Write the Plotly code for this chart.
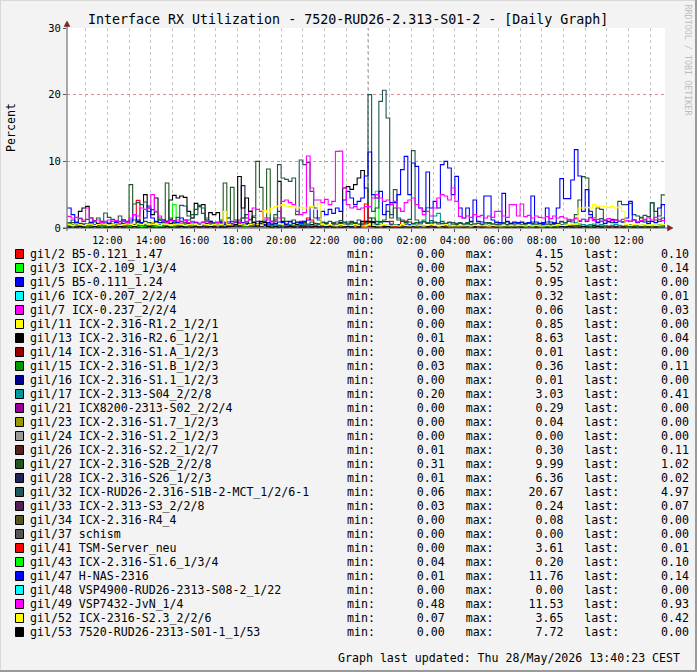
import pandas as pd
import plotly.graph_objects as go

# ---------------------------------------------------------------- texts
TITLE = "Interface RX Utilization - 7520-RUD26-2.313-S01-2 - [Daily Graph]"
Y_LABEL = "Percent"
UPDATED = "Graph last updated: Thu 28/May/2026 13:40:23 CEST"
WATERMARK = "RRDTOOL / TOBI OETIKER"

# ---------------------------------------------------------------- time axis
T_START_10MIN = "2026-05-27 10:10"
T_START_HOURLY = "2026-05-27 10:00"
X_RANGE = ["2026-05-27 10:08:35", "2026-05-28 13:40:23"]
DAY_BREAK = "2026-05-28 00:00"
X_TICK0 = "2026-05-27 12:00"
Y_RANGE = [0, 30]
Y_TICKS = [0, 10, 20, 30]

# ---------------------------------------------------------------- legend
names = [
    "gil/2 B5-0.121_1.47", "gil/3 ICX-2.109_1/3/4", "gil/5 B5-0.111_1.24",
    "gil/6 ICX-0.207_2/2/4", "gil/7 ICX-0.237_2/2/4", "gil/11 ICX-2.316-R1.2_1/2/1",
    "gil/13 ICX-2.316-R2.6_1/2/1", "gil/14 ICX-2.316-S1.A_1/2/3", "gil/15 ICX-2.316-S1.B_1/2/3",
    "gil/16 ICX-2.316-S1.1_1/2/3", "gil/17 ICX-2.313-S04_2/2/8", "gil/21 ICX8200-2313-S02_2/2/4",
    "gil/23 ICX-2.316-S1.7_1/2/3", "gil/24 ICX-2.316-S1.2_1/2/3", "gil/26 ICX-2.316-S2.2_1/2/7",
    "gil/27 ICX-2.316-S2B_2/2/8", "gil/28 ICX-2.316-S26_1/2/3", "gil/32 ICX-RUD26-2.316-S1B-2-MCT_1/2/6-1",
    "gil/33 ICX-2.313-S3_2/2/8", "gil/34 ICX-2.316-R4_4", "gil/37 schism",
    "gil/41 TSM-Server_neu", "gil/43 ICX-2.316-S1.6_1/3/4", "gil/47 H-NAS-2316",
    "gil/48 VSP4900-RUD26-2313-S08-2_1/22", "gil/49 VSP7432-JvN_1/4", "gil/52 ICX-2316-S2.3_2/2/6",
    "gil/53 7520-RUD26-2313-S01-1_1/53",
]
colors = [
    "#FF0000", "#00FF00", "#0000FF", "#00FFFF", "#FF00FF", "#FFFF00", "#000000",
    "#990000", "#009900", "#000099", "#009999", "#990099", "#999900", "#999999",
    "#552222", "#225522", "#222255", "#225555", "#552255", "#555522", "#555555",
    "#FF0000", "#00FF00", "#0000FF", "#00FFFF", "#FF00FF", "#FFFF00", "#000000",
]
stat_min = [0.00, 0.00, 0.00, 0.00, 0.00, 0.00, 0.01, 0.00, 0.03, 0.00, 0.20, 0.00, 0.00, 0.00,
            0.01, 0.31, 0.01, 0.06, 0.03, 0.00, 0.00, 0.00, 0.04, 0.01, 0.00, 0.48, 0.07, 0.00]
stat_max = [4.15, 5.52, 0.95, 0.32, 0.06, 0.85, 8.63, 0.01, 0.36, 0.01, 3.03, 0.29, 0.04, 0.00,
            0.30, 9.99, 6.36, 20.67, 0.24, 0.08, 0.00, 3.61, 0.20, 11.76, 0.00, 11.53, 3.65, 7.72]
stat_last = [0.10, 0.14, 0.00, 0.01, 0.03, 0.00, 0.04, 0.00, 0.11, 0.00, 0.41, 0.00, 0.00, 0.00,
             0.11, 1.02, 0.02, 4.97, 0.07, 0.00, 0.00, 0.01, 0.10, 0.14, 0.00, 0.93, 0.42, 0.00]

# ---------------------------------------------------------------- 10-minute series (10:10 .. 13:40)
gil2 = [
    0.1, 0.2, 0.1, 0.3, 0.2,
    0.1, 0.2, 0.3, 0.1, 0.2, 0.1,   # 11
    0.2, 0.3, 0.1, 0.2, 0.1, 0.2,   # 12
    0.3, 0.2, 4.15, 0.5, 0.3, 0.2,  # 13
    0.1, 0.2, 0.3, 0.2, 0.1, 0.2,   # 14
    0.3, 0.1, 0.2, 0.1, 0.2, 0.3,   # 15
    0.2, 0.1, 0.2, 0.3, 0.1, 0.2,   # 16
    0.1, 0.2, 0.1, 0.2, 0.3, 0.1,   # 17
    0.2, 0.1, 0.3, 0.2, 0.1, 0.2,   # 18
    0.3, 0.2, 0.1, 0.2, 0.1, 0.2,   # 19
    0.1, 0.3, 0.2, 0.1, 0.2, 1.0,   # 20
    0.3, 1.5, 1.2, 0.2, 0.1, 0.2,   # 21
    0.1, 0.2, 0.1, 0.3, 0.2, 0.1,   # 22
    0.2, 0.1, 0.2, 0.1, 0.3, 0.2,   # 23
    0.1, 0.2, 0.1, 0.2, 0.1, 0.3,   # 00
    0.2, 0.1, 0.2, 1.0, 1.0, 0.2,   # 01
    0.1, 0.2, 0.1, 0.2, 0.1, 0.1,   # 02
    0.2, 0.1, 0.1, 0.2, 0.1, 0.1,   # 03
    0.1, 0.1, 0.2, 0.1, 0.1, 0.2,   # 04
    0.1, 0.2, 0.1, 0.1, 0.2, 0.1,   # 05
    0.1, 0.1, 0.2, 0.1, 0.1, 0.2,   # 06
    0.2, 0.1, 0.1, 0.2, 0.1, 0.1,   # 07
    0.1, 0.2, 0.1, 0.1, 0.2, 0.1,   # 08
    0.1, 0.1, 0.2, 0.1, 0.1, 0.2,   # 09
    0.2, 0.1, 0.1, 0.2, 0.1, 0.1,   # 10
    0.1, 0.2, 0.1, 0.1, 0.2, 0.1,   # 11
    0.1, 0.1, 0.2, 0.1, 0.1, 0.2,   # 12
    0.1, 0.2, 0.1, 0.1, 0.1,        # 13
]
gil3 = [
    0.2, 0.1, 0.2, 0.3, 0.2,
    0.1, 0.2, 0.1, 0.2, 0.3, 0.2,   # 11
    0.1, 0.2, 0.2, 0.1, 0.3, 0.2,   # 12
    0.2, 0.1, 0.2, 0.3, 0.2, 0.1,   # 13
    0.2, 0.3, 0.2, 0.1, 0.2, 0.3,   # 14
    3.5, 0.4, 0.2, 0.1, 0.2, 0.3,   # 15
    0.2, 0.1, 0.2, 0.2, 0.1, 0.2,   # 16
    0.3, 0.2, 0.1, 0.2, 0.3, 0.2,   # 17
    0.1, 0.2, 0.2, 0.3, 0.1, 0.2,   # 18
    0.2, 0.1, 0.3, 0.2, 0.2, 0.1,   # 19
    0.2, 0.3, 0.2, 0.1, 0.2, 0.2,   # 20
    0.1, 0.2, 0.3, 0.2, 0.1, 0.2,   # 21
    0.2, 0.1, 0.2, 0.3, 0.2, 0.1,   # 22
    0.2, 0.2, 0.1, 0.3, 0.2, 0.2,   # 23
    0.1, 0.2, 5.52, 0.3, 0.2, 0.1,  # 00
    0.2, 0.1, 0.2, 0.2, 0.1, 0.2,   # 01
    0.1, 0.2, 0.1, 0.2, 0.2, 0.1,   # 02
    0.2, 0.1, 0.2, 0.1, 0.2, 0.2,   # 03
    0.1, 0.2, 0.1, 0.2, 0.1, 0.2,   # 04
    0.2, 0.1, 0.2, 0.1, 0.2, 0.1,   # 05
    0.1, 0.2, 0.1, 0.2, 0.1, 0.2,   # 06
    0.2, 0.1, 0.2, 0.1, 0.2, 0.1,   # 07
    0.1, 0.2, 0.1, 0.2, 0.1, 0.2,   # 08
    0.2, 0.1, 0.2, 0.3, 0.2, 0.1,   # 09
    0.2, 0.3, 0.2, 0.1, 0.2, 0.1,   # 10
    0.1, 0.2, 0.1, 0.2, 0.1, 0.2,   # 11
    0.2, 0.1, 0.2, 0.1, 0.2, 0.1,   # 12
    0.1, 0.2, 0.1, 0.2, 0.14,       # 13
]
gil13 = [
    0.3, 0.5, 0.8, 2.5, 3.0,
    3.25, 1.5, 0.5, 0.4, 0.3, 0.5,  # 11
    0.4, 0.3, 0.5, 0.4, 0.6, 0.3,   # 12
    0.4, 0.5, 1.0, 0.8, 5.0, 3.0,   # 13
    2.0, 4.5, 1.2, 0.8, 1.0, 4.2,   # 14
    4.9, 4.5, 4.8, 4.6, 2.5, 1.5,   # 15
    3.7, 3.2, 3.5, 1.2, 2.3, 2.0,   # 16
    2.3, 0.8, 0.5, 0.4, 0.6, 0.3,   # 17
    0.4, 0.5, 0.3, 0.6, 0.4, 0.5,   # 18
    0.3, 0.4, 0.6, 0.5, 1.2, 7.0,   # 19
    1.0, 0.5, 0.4, 0.3, 0.5, 0.4,   # 20
    0.6, 0.3, 0.5, 0.4, 0.6, 0.3,   # 21
    0.5, 0.4, 0.6, 0.5, 0.8, 6.0,   # 22
    6.2, 5.8, 6.5, 7.5, 8.63, 6.0,  # 23
    1.5, 0.8, 0.5, 0.4, 0.3, 0.2,   # 00
    0.3, 0.2, 0.4, 0.3, 0.2, 0.3,   # 01
    0.2, 0.3, 0.2, 0.1, 0.2, 0.3,   # 02
    0.2, 0.1, 0.2, 0.3, 0.2, 0.1,   # 03
    0.2, 0.1, 0.1, 0.2, 0.1, 0.2,   # 04
    0.1, 0.2, 0.1, 0.1, 0.2, 0.1,   # 05
    0.2, 0.1, 0.2, 0.1, 0.1, 0.2,   # 06
    0.1, 0.1, 0.2, 0.1, 0.2, 0.1,   # 07
    0.2, 0.1, 0.1, 0.2, 0.1, 0.3,   # 08
    0.2, 0.3, 0.2, 0.4, 0.3, 0.2,   # 09
    0.3, 0.2, 0.4, 0.3, 0.2, 0.3,   # 10
    0.2, 0.3, 0.2, 0.1, 0.2, 0.3,   # 11
    0.2, 0.1, 0.2, 0.3, 0.1, 0.2,   # 12
    0.1, 0.2, 0.1, 0.1, 0.04,       # 13
]
gil17 = [
    0.4, 0.5, 0.3, 0.4, 0.6,
    0.5, 0.4, 0.3, 0.5, 0.4, 0.6,   # 11
    0.4, 0.5, 0.3, 0.4, 0.5, 0.4,   # 12
    0.6, 0.4, 0.5, 0.3, 0.4, 0.5,   # 13
    0.4, 0.3, 0.5, 0.4, 0.6, 0.4,   # 14
    0.5, 0.4, 0.3, 0.5, 0.4, 0.6,   # 15
    0.4, 0.5, 0.4, 0.3, 0.5, 0.4,   # 16
    0.5, 0.4, 0.6, 0.4, 0.3, 0.5,   # 17
    0.8, 0.6, 0.4, 0.5, 0.4, 0.3,   # 18
    0.4, 0.5, 0.4, 0.6, 0.5, 0.4,   # 19
    0.3, 0.4, 0.5, 0.4, 0.3, 0.5,   # 20
    0.4, 0.5, 0.3, 0.4, 0.5, 0.4,   # 21
    0.5, 0.4, 0.3, 0.5, 0.4, 0.6,   # 22
    0.4, 0.5, 0.4, 0.3, 0.5, 0.6,   # 23
    0.5, 0.4, 0.6, 0.8, 0.5, 0.4,   # 00
    0.6, 0.5, 0.4, 0.5, 0.6, 0.4,   # 01
    0.5, 0.6, 0.8, 1.2, 3.03, 0.8,  # 02
    1.8, 2.2, 0.6, 0.5, 0.4, 0.5,   # 03
    0.4, 0.3, 0.4, 0.5, 0.3, 0.4,   # 04
    0.3, 0.4, 0.3, 0.4, 0.5, 0.3,   # 05
    0.4, 0.3, 0.5, 0.4, 0.3, 0.4,   # 06
    0.3, 0.4, 0.3, 0.5, 0.4, 0.3,   # 07
    0.4, 0.3, 0.4, 0.3, 0.5, 0.4,   # 08
    0.6, 0.5, 0.4, 0.8, 0.6, 0.5,   # 09
    0.4, 0.5, 0.6, 0.4, 0.5, 0.4,   # 10
    0.3, 0.4, 0.5, 0.4, 0.3, 0.4,   # 11
    0.5, 0.4, 0.3, 0.4, 0.5, 0.4,   # 12
    0.3, 0.4, 0.5, 0.4, 0.41,       # 13
]
gil27 = [
    0.6, 0.8, 0.5, 0.7, 0.6,
    0.5, 0.7, 0.9, 0.6, 0.8, 0.5,   # 11
    0.7, 0.6, 0.8, 1.0, 0.7, 0.6,   # 12
    6.5, 1.2, 0.8, 0.7, 1.0, 0.8,   # 13
    0.7, 0.9, 1.2, 0.8, 6.75, 1.5,  # 14
    0.8, 0.9, 1.0, 0.8, 1.2, 2.0,   # 15
    2.8, 3.4, 2.2, 1.0, 0.8, 0.6,   # 16
    0.8, 1.0, 6.75, 1.5, 6.1, 1.2,  # 17
    0.9, 1.5, 2.0, 1.2, 1.8, 9.99,  # 18
    6.1, 1.0, 8.85, 1.0, 1.5, 2.5,  # 19
    1.5, 1.0, 0.9, 1.2, 0.8, 0.7,   # 20
    0.8, 0.6, 0.9, 0.7, 0.6, 0.8,   # 21
    0.7, 0.5, 0.8, 0.6, 0.7, 0.9,   # 22
    0.6, 0.8, 0.7, 0.5, 0.6, 0.8,   # 23
    0.8, 1.5, 1.0, 0.9, 1.2, 2.5,   # 00
    1.5, 3.0, 1.2, 1.0, 0.8, 0.9,   # 01
    0.7, 0.8, 0.6, 0.9, 0.7, 0.6,   # 02
    0.8, 0.6, 0.7, 0.5, 0.8, 0.6,   # 03
    0.5, 0.7, 0.6, 0.8, 0.5, 0.6,   # 04
    0.7, 0.5, 0.6, 0.8, 0.6, 0.5,   # 05
    0.6, 0.8, 0.5, 0.7, 0.6, 0.8,   # 06
    0.5, 0.6, 0.8, 0.7, 0.5, 0.6,   # 07
    0.7, 0.6, 0.5, 0.8, 0.6, 0.9,   # 08
    0.8, 1.0, 1.2, 2.0, 4.2, 7.7,   # 09
    7.5, 2.5, 1.5, 3.0, 2.8, 1.2,   # 10
    1.0, 0.8, 1.2, 1.0, 0.9, 1.1,   # 11
    1.0, 1.2, 0.9, 1.5, 1.2, 1.0,   # 12
    3.75, 1.2, 1.0, 1.5, 1.02,      # 13
]
gil28 = [
    0.2, 0.1, 0.2, 0.1, 0.3,
    0.2, 0.1, 0.2, 0.3, 0.1, 0.2,   # 11
    0.1, 0.2, 0.1, 0.2, 0.3, 0.1,   # 12
    0.2, 0.3, 0.2, 0.1, 0.2, 0.1,   # 13
    0.3, 0.2, 0.1, 0.2, 0.1, 0.2,   # 14
    0.1, 0.2, 0.3, 0.1, 0.2, 0.1,   # 15
    0.2, 0.1, 0.2, 0.1, 0.3, 0.2,   # 16
    0.1, 0.2, 0.1, 0.3, 0.2, 0.1,   # 17
    0.2, 6.36, 1.5, 0.3, 0.2, 0.1,  # 18
    0.2, 0.1, 0.2, 0.1, 0.2, 0.3,   # 19
    0.1, 0.2, 0.1, 0.2, 0.1, 0.2,   # 20
    0.3, 0.1, 0.2, 0.1, 0.2, 0.1,   # 21
    0.2, 0.1, 0.2, 0.3, 0.1, 0.2,   # 22
    0.1, 0.2, 0.1, 0.2, 0.3, 0.1,   # 23
    0.2, 0.1, 0.2, 0.1, 0.2, 0.1,   # 00
    0.1, 0.2, 0.1, 0.1, 0.2, 0.1,   # 01
    0.1, 0.1, 0.2, 0.1, 0.1, 0.1,   # 02
    0.2, 0.1, 0.1, 0.1, 0.2, 0.1,   # 03
    0.1, 0.1, 0.1, 0.2, 0.1, 0.1,   # 04
    0.1, 0.2, 0.1, 0.1, 0.1, 0.1,   # 05
    0.1, 0.1, 0.1, 0.1, 0.2, 0.1,   # 06
    0.1, 0.1, 0.2, 0.1, 0.1, 0.1,   # 07
    0.1, 0.2, 0.1, 0.1, 0.1, 0.2,   # 08
    0.1, 0.1, 0.2, 0.1, 0.1, 0.1,   # 09
    0.2, 0.1, 0.1, 0.1, 0.2, 0.1,   # 10
    0.1, 0.1, 0.2, 0.1, 0.1, 0.1,   # 11
    0.1, 0.2, 0.1, 0.1, 0.1, 0.1,   # 12
    0.1, 0.1, 0.1, 0.1, 0.02,       # 13
]
gil32 = [
    0.8, 1.2, 0.9, 1.4, 1.0,
    1.3, 0.9, 1.1, 1.5, 1.0, 2.25,  # 11
    1.6, 1.3, 1.0, 1.8, 1.2, 1.0,   # 12
    1.2, 3.6, 3.8, 3.5, 3.9, 2.5,   # 13
    2.75, 2.4, 1.5, 1.2, 1.0, 1.3,  # 14
    1.1, 1.6, 3.4, 3.3, 1.8, 1.5,   # 15
    2.0, 3.25, 3.0, 1.5, 1.0, 0.8,  # 16
    0.9, 1.2, 0.8, 1.5, 1.0, 0.8,   # 17
    1.2, 1.5, 0.9, 1.3, 1.6, 1.0,   # 18
    0.9, 1.2, 1.5, 1.0, 2.0, 9.5,   # 19
    7.5, 7.3, 7.0, 7.5, 2.0, 10.2,  # 20
    9.5, 9.8, 5.5, 1.5, 1.2, 0.9,   # 21
    0.8, 1.0, 0.7, 0.9, 1.1, 0.8,   # 22
    0.9, 1.0, 0.8, 1.2, 0.9, 1.0,   # 23
    20.0, 2.5, 3.0, 19.0, 20.67, 16.5,  # 00
    2.0, 5.75, 1.5, 1.2, 1.0, 1.3,  # 01
    11.6, 1.2, 0.9, 1.0, 0.8, 1.1,  # 02
    0.9, 0.8, 1.0, 0.7, 0.9, 0.8,   # 03
    0.7, 0.8, 0.6, 0.7, 0.9, 0.6,   # 04
    0.7, 0.6, 0.8, 0.7, 0.6, 0.8,   # 05
    0.6, 0.7, 0.9, 0.6, 0.8, 0.7,   # 06
    0.8, 0.6, 0.7, 0.9, 0.6, 0.7,   # 07
    0.7, 0.9, 0.6, 0.8, 0.7, 1.0,   # 08
    0.8, 1.2, 0.9, 1.5, 1.0, 1.3,   # 09
    1.0, 1.6, 1.2, 0.9, 1.4, 1.1,   # 10
    1.0, 1.3, 1.2, 4.0, 3.5, 3.5,   # 11
    3.7, 2.0, 1.8, 1.6, 1.9, 1.7,   # 12
    3.8, 2.5, 1.8, 4.97, 4.97,      # 13
]
gil41 = [
    0.0, 0.1, 0.0, 0.1, 0.0,
    0.1, 0.0, 0.1, 0.0, 0.1, 0.0,   # 11
    0.0, 0.1, 0.0, 0.1, 0.0, 0.1,   # 12
    0.1, 0.0, 0.1, 0.0, 0.1, 0.0,   # 13
    0.0, 0.1, 0.0, 0.1, 0.0, 0.1,   # 14
    0.1, 0.0, 0.1, 0.0, 0.1, 0.0,   # 15
    0.0, 0.1, 0.0, 0.1, 0.0, 0.1,   # 16
    0.1, 0.0, 0.1, 0.0, 0.1, 0.0,   # 17
    0.0, 0.1, 0.0, 0.1, 0.0, 0.1,   # 18
    0.1, 0.0, 0.1, 0.0, 0.1, 0.0,   # 19
    0.0, 0.1, 0.0, 0.1, 0.0, 0.1,   # 20
    0.1, 0.0, 0.1, 0.0, 0.1, 0.0,   # 21
    0.0, 0.1, 0.0, 0.1, 0.0, 0.1,   # 22
    0.1, 0.0, 0.1, 0.0, 0.2, 3.61,  # 23
    0.3, 0.1, 0.0, 0.1, 0.0, 0.1,   # 00
    1.0, 0.2, 0.1, 0.0, 0.1, 0.0,   # 01
    0.0, 0.1, 0.0, 0.1, 0.0, 0.1,   # 02
    0.1, 0.0, 0.1, 0.0, 0.1, 0.0,   # 03
    0.0, 0.1, 0.0, 0.1, 0.0, 0.1,   # 04
    0.1, 0.0, 0.1, 0.0, 0.1, 0.0,   # 05
    0.0, 0.1, 0.0, 0.1, 0.0, 0.1,   # 06
    0.1, 0.0, 0.1, 0.0, 0.1, 0.0,   # 07
    0.0, 0.1, 0.0, 0.1, 0.0, 0.1,   # 08
    0.1, 0.0, 0.1, 0.0, 0.1, 0.0,   # 09
    0.0, 0.1, 0.0, 0.1, 0.0, 0.1,   # 10
    0.1, 0.0, 0.1, 0.0, 0.1, 0.0,   # 11
    0.0, 0.1, 0.0, 0.1, 0.0, 0.1,   # 12
    0.1, 0.0, 0.1, 0.0, 0.01,       # 13
]
gil47 = [
    3.0, 2.0, 0.8, 0.6, 0.5,
    0.6, 0.8, 0.5, 0.7, 0.6, 0.9,   # 11
    0.7, 1.0, 0.8, 0.6, 1.2, 0.8,   # 12
    0.9, 2.0, 1.2, 0.8, 1.5, 3.3,   # 13
    1.5, 1.0, 0.8, 1.2, 0.9, 0.7,   # 14
    1.0, 0.8, 1.5, 1.2, 0.7, 0.9,   # 15
    0.8, 0.6, 0.9, 0.7, 1.0, 0.6,   # 16
    0.7, 0.8, 0.6, 0.9, 0.7, 0.5,   # 17
    0.6, 0.8, 0.7, 0.5, 0.9, 0.6,   # 18
    0.7, 0.5, 0.8, 0.6, 0.7, 0.9,   # 19
    0.8, 0.6, 1.0, 0.7, 0.9, 0.8,   # 20
    1.0, 1.2, 3.2, 3.0, 1.5, 2.5,   # 21
    2.0, 2.8, 2.2, 3.0, 2.5, 4.2,   # 22
    5.5, 4.5, 3.5, 4.0, 4.5, 7.8,   # 23
    11.4, 5.0, 4.5, 5.5, 2.0, 3.5,  # 00
    3.8, 3.8, 5.0, 8.75, 10.75, 5.0,  # 01
    9.75, 9.25, 3.0, 2.5, 8.4, 3.0,   # 02
    4.0, 3.0, 9.5, 10.0, 9.0, 5.0,  # 03
    7.75, 3.0, 1.5, 3.0, 1.0, 4.2,  # 04
    1.0, 0.9, 4.8, 4.8, 1.2, 0.9,   # 05
    0.8, 5.2, 1.0, 0.7, 0.9, 0.8,   # 06
    0.9, 0.7, 0.8, 4.8, 0.9, 0.7,   # 07
    0.8, 3.0, 0.9, 0.7, 3.0, 7.4,   # 08
    4.4, 4.4, 7.2, 11.76, 7.8, 2.5,  # 09
    5.75, 2.0, 1.2, 0.8, 1.0, 0.7,  # 10
    0.9, 1.2, 0.8, 1.0, 0.9, 1.5,   # 11
    4.0, 1.2, 0.8, 1.0, 0.9, 0.7,   # 12
    1.0, 0.8, 3.0, 3.5, 0.14,       # 13
]
gil49 = [
    1.75, 1.5, 1.6, 1.5, 1.2,
    3.0, 1.5, 1.0, 1.2, 0.8, 1.0,   # 11
    1.2, 1.0, 1.1, 0.9, 1.0, 0.8,   # 12
    1.5, 2.0, 1.8, 3.0, 2.8, 3.0,   # 13
    5.0, 2.5, 1.8, 1.0, 0.8, 1.1,   # 14
    1.0, 1.2, 0.9, 1.1, 0.8, 1.0,   # 15
    0.9, 0.7, 0.8, 1.0, 0.7, 0.6,   # 16
    0.8, 0.6, 0.9, 0.7, 0.6, 1.0,   # 17
    0.8, 0.7, 1.0, 2.5, 3.0, 2.8,   # 18
    2.5, 1.5, 1.2, 0.9, 1.0, 1.5,   # 19
    4.0, 4.2, 3.8, 3.5, 2.5, 2.0,   # 20
    2.3, 10.8, 6.0, 4.2, 4.2, 3.8,  # 21
    4.3, 3.5, 4.0, 11.5, 11.53, 6.0,  # 22
    3.5, 3.0, 3.2, 2.8, 3.0, 3.2,   # 23
    3.2, 4.5, 5.0, 4.5, 4.0, 4.2,   # 00
    3.5, 4.0, 3.0, 2.5, 3.8, 4.2,   # 01
    4.5, 3.5, 3.0, 2.0, 2.5, 1.8,   # 02
    3.0, 4.5, 5.0, 4.8, 4.2, 6.0,   # 03
    4.0, 1.75, 1.5, 1.8, 1.6, 2.0,  # 04
    1.7, 1.9, 1.5, 1.8, 1.6, 2.5,   # 05
    2.5, 1.8, 1.6, 3.5, 3.5, 1.8,   # 06
    3.6, 1.7, 1.9, 1.5, 1.8, 1.6,   # 07
    1.5, 1.7, 1.4, 1.8, 1.5, 1.7,   # 08
    1.5, 1.3, 1.2, 1.4, 1.1, 1.3,   # 09
    1.2, 1.5, 1.1, 1.3, 1.0, 1.2,   # 10
    1.4, 1.1, 1.2, 1.0, 1.3, 1.1,   # 11
    1.0, 1.2, 0.9, 1.1, 1.3, 1.5,   # 12
    1.2, 1.6, 1.3, 1.1, 0.93,       # 13
]
gil52 = [
    0.5, 0.4, 0.6, 0.5, 0.4,
    0.5, 0.6, 0.4, 0.5, 0.6, 0.5,   # 11
    0.4, 0.5, 0.6, 0.4, 0.5, 0.6,   # 12
    0.5, 0.4, 0.6, 0.5, 0.7, 0.5,   # 13
    0.6, 0.5, 0.4, 0.6, 0.5, 0.4,   # 14
    0.5, 0.6, 0.5, 0.4, 0.5, 0.6,   # 15
    0.5, 0.4, 0.6, 0.5, 0.4, 0.5,   # 16
    0.6, 0.5, 2.5, 0.5, 0.4, 0.6,   # 17
    0.5, 0.6, 0.4, 0.5, 0.6, 0.5,   # 18
    0.4, 2.6, 2.25, 3.0, 3.2, 3.3,  # 19
    3.5, 3.3, 3.2, 3.3, 3.0, 3.1,   # 20
    3.0, 3.0, 3.2, 2.8, 3.65, 0.5,  # 21
    0.4, 0.5, 0.3, 0.4, 0.5, 0.4,   # 22
    0.3, 0.4, 0.5, 0.4, 0.3, 0.4,   # 23
    0.5, 0.4, 0.3, 0.4, 0.5, 0.4,   # 00
    0.3, 0.4, 0.3, 0.5, 0.4, 0.3,   # 01
    0.4, 0.3, 0.4, 0.3, 0.4, 0.5,   # 02
    0.4, 0.3, 0.4, 0.5, 0.3, 0.4,   # 03
    0.3, 0.4, 0.3, 0.4, 0.3, 0.4,   # 04
    0.4, 0.3, 0.4, 0.3, 0.4, 0.3,   # 05
    0.3, 0.4, 0.3, 0.4, 0.3, 0.4,   # 06
    0.4, 0.3, 0.4, 0.3, 0.4, 0.3,   # 07
    0.3, 0.4, 0.3, 0.4, 0.5, 0.4,   # 08
    0.4, 0.5, 0.6, 0.5, 3.0, 3.0,   # 09
    3.1, 3.0, 3.5, 3.2, 3.3, 3.2,   # 10
    3.1, 3.2, 3.0, 3.1, 2.5, 0.5,   # 11
    0.4, 0.5, 0.6, 0.4, 0.5, 0.4,   # 12
    0.5, 0.4, 0.6, 0.5, 0.42,       # 13
]
gil53 = [
    0.1, 0.0, 0.1, 0.2, 0.1,
    0.0, 0.1, 0.2, 0.1, 0.0, 0.1,   # 11
    0.1, 0.0, 0.1, 0.2, 0.1, 0.0,   # 12
    0.1, 0.2, 0.1, 0.0, 0.1, 0.2,   # 13
    0.1, 0.0, 0.1, 0.1, 0.2, 0.1,   # 14
    0.0, 0.1, 0.2, 0.1, 0.0, 0.1,   # 15
    0.2, 0.1, 0.0, 0.1, 0.2, 0.1,   # 16
    0.0, 0.1, 0.1, 0.2, 0.3, 0.5,   # 17
    7.72, 3.0, 4.5, 2.5, 0.8, 0.3,  # 18
    1.0, 0.8, 0.2, 0.1, 0.2, 0.1,   # 19
    0.0, 0.1, 0.2, 0.1, 0.0, 0.1,   # 20
    0.1, 0.0, 0.1, 0.2, 0.1, 0.0,   # 21
    0.1, 0.2, 0.1, 0.0, 0.1, 0.1,   # 22
    0.2, 0.1, 0.0, 0.1, 1.0, 1.0,   # 23
    1.0, 0.2, 0.1, 0.0, 0.1, 0.2,   # 00
    0.1, 0.0, 0.1, 0.1, 0.0, 0.1,   # 01
    0.0, 0.1, 0.0, 0.0, 0.1, 0.0,   # 02
    0.1, 0.0, 0.0, 0.1, 0.0, 0.0,   # 03
    0.0, 0.0, 0.1, 0.0, 0.0, 0.1,   # 04
    0.0, 0.1, 0.0, 0.0, 0.0, 0.1,   # 05
    0.0, 0.0, 0.1, 0.0, 0.1, 0.0,   # 06
    0.1, 0.0, 0.0, 0.0, 0.1, 0.0,   # 07
    0.0, 0.1, 0.0, 0.1, 0.0, 0.2,   # 08
    0.1, 0.2, 0.1, 0.0, 0.1, 0.2,   # 09
    0.1, 0.0, 0.1, 0.2, 0.1, 0.0,   # 10
    0.1, 0.0, 0.1, 0.0, 0.1, 0.0,   # 11
    0.0, 0.1, 0.0, 0.1, 0.0, 0.1,   # 12
    0.0, 0.1, 0.0, 0.0, 0.00,       # 13
]

# ---------------------------------------------------------------- hourly series (10:00 .. 14:00)
gil5 = [0.2, 0.4, 0.3, 0.5, 0.3, 0.6, 0.4, 0.3, 0.5, 0.4, 0.3, 0.2, 0.4, 0.6, 0.95,
        0.5, 0.3, 0.2, 0.3, 0.2, 0.4, 0.3, 0.5, 0.4, 0.3, 0.2, 0.3, 0.0, 0.0]
gil6 = [0.1, 0.2, 0.1, 0.15, 0.32, 0.2, 0.1, 0.15, 0.1, 0.2, 0.1, 0.05, 0.1, 0.2, 0.15,
        0.1, 0.05, 0.1, 0.05, 0.1, 0.15, 0.1, 0.2, 0.1, 0.05, 0.1, 0.05, 0.01, 0.01]
gil7 = [0.02, 0.03, 0.01, 0.04, 0.02, 0.06, 0.03, 0.02, 0.01, 0.03, 0.02, 0.01, 0.02, 0.04, 0.03,
        0.02, 0.01, 0.02, 0.01, 0.02, 0.03, 0.02, 0.01, 0.02, 0.03, 0.02, 0.04, 0.03, 0.03]
gil11 = [0.3, 0.5, 0.4, 0.6, 0.85, 0.5, 0.3, 0.4, 0.2, 0.3, 0.5, 0.4, 0.3, 0.2, 0.1,
         0.2, 0.1, 0.2, 0.3, 0.2, 0.1, 0.3, 0.2, 0.4, 0.3, 0.2, 0.1, 0.0, 0.0]
gil14 = [0.0, 0.01, 0.0, 0.0, 0.01, 0.0, 0.0, 0.01, 0.0, 0.0, 0.0, 0.01, 0.0, 0.0, 0.0,
         0.01, 0.0, 0.0, 0.0, 0.0, 0.01, 0.0, 0.0, 0.0, 0.01, 0.0, 0.0, 0.0, 0.0]
gil15 = [0.1, 0.15, 0.2, 0.3, 0.36, 0.25, 0.2, 0.15, 0.2, 0.1, 0.15, 0.1, 0.08, 0.05, 0.05,
         0.04, 0.03, 0.05, 0.04, 0.06, 0.08, 0.1, 0.15, 0.2, 0.15, 0.1, 0.12, 0.11, 0.11]
gil16 = [0.0, 0.0, 0.01, 0.0, 0.0, 0.0, 0.01, 0.0, 0.0, 0.0, 0.0, 0.0, 0.01, 0.0, 0.0,
         0.0, 0.0, 0.01, 0.0, 0.0, 0.0, 0.0, 0.0, 0.01, 0.0, 0.0, 0.0, 0.0, 0.0]
gil21 = [0.05, 0.1, 0.05, 0.15, 0.29, 0.1, 0.05, 0.02, 0.0, 0.05, 0.1, 0.05, 0.0, 0.02, 0.05,
         0.0, 0.0, 0.02, 0.0, 0.05, 0.1, 0.05, 0.02, 0.1, 0.05, 0.02, 0.0, 0.0, 0.0]
gil23 = [0.01, 0.02, 0.0, 0.03, 0.04, 0.02, 0.01, 0.0, 0.01, 0.02, 0.0, 0.01, 0.0, 0.02, 0.01,
         0.0, 0.01, 0.0, 0.0, 0.01, 0.02, 0.01, 0.0, 0.01, 0.02, 0.0, 0.01, 0.0, 0.0]
gil24 = [0.0, 0.0, 0.0, 0.0, 0.0, 0.0, 0.0, 0.0, 0.0, 0.0, 0.0, 0.0, 0.0, 0.0, 0.0,
         0.0, 0.0, 0.0, 0.0, 0.0, 0.0, 0.0, 0.0, 0.0, 0.0, 0.0, 0.0, 0.0, 0.0]
gil26 = [0.1, 0.15, 0.2, 0.3, 0.2, 0.1, 0.15, 0.05, 0.02, 0.01, 0.05, 0.1, 0.05, 0.02, 0.01,
         0.02, 0.01, 0.02, 0.05, 0.1, 0.15, 0.1, 0.2, 0.15, 0.1, 0.12, 0.1, 0.11, 0.11]
gil33 = [0.05, 0.1, 0.15, 0.24, 0.2, 0.1, 0.08, 0.05, 0.04, 0.03, 0.05, 0.06, 0.04, 0.03, 0.04,
         0.05, 0.03, 0.04, 0.05, 0.06, 0.1, 0.08, 0.12, 0.1, 0.08, 0.06, 0.07, 0.07, 0.07]
gil34 = [0.02, 0.04, 0.03, 0.06, 0.08, 0.05, 0.03, 0.02, 0.01, 0.02, 0.03, 0.02, 0.01, 0.0, 0.01,
         0.0, 0.01, 0.0, 0.01, 0.02, 0.03, 0.02, 0.04, 0.03, 0.02, 0.01, 0.0, 0.0, 0.0]
gil37 = [0.0, 0.0, 0.0, 0.0, 0.0, 0.0, 0.0, 0.0, 0.0, 0.0, 0.0, 0.0, 0.0, 0.0, 0.0,
         0.0, 0.0, 0.0, 0.0, 0.0, 0.0, 0.0, 0.0, 0.0, 0.0, 0.0, 0.0, 0.0, 0.0]
gil43 = [0.1, 0.15, 0.12, 0.2, 0.18, 0.1, 0.08, 0.06, 0.05, 0.04, 0.06, 0.08, 0.05, 0.04, 0.05,
         0.06, 0.04, 0.05, 0.06, 0.08, 0.1, 0.12, 0.15, 0.12, 0.1, 0.08, 0.12, 0.1, 0.1]
gil48 = [0.0, 0.0, 0.0, 0.0, 0.0, 0.0, 0.0, 0.0, 0.0, 0.0, 0.0, 0.0, 0.0, 0.0, 0.0,
         0.0, 0.0, 0.0, 0.0, 0.0, 0.0, 0.0, 0.0, 0.0, 0.0, 0.0, 0.0, 0.0, 0.0]

series = [gil2, gil3, gil5, gil6, gil7, gil11, gil13, gil14, gil15, gil16, gil17, gil21, gil23,
          gil24, gil26, gil27, gil28, gil32, gil33, gil34, gil37, gil41, gil43, gil47, gil48,
          gil49, gil52, gil53]

# ---------------------------------------------------------------- layout geometry (pixels)
W, H = 697, 672
PL, PR, PT, PB = 67, 665, 28, 228
MONO = "DejaVu Sans Mono"


def fx(px):
    return (px - PL) / (PR - PL)


def fy(py):
    return (PB - py) / (PB - PT)


fig = go.Figure()

for name, col, vals in zip(names, colors, series):
    if len(vals) > 60:
        xs = pd.date_range(T_START_10MIN, periods=len(vals), freq="10min")
    else:
        xs = pd.date_range(T_START_HOURLY, periods=len(vals), freq="1h")
    fig.add_trace(go.Scatter(
        x=xs, y=vals, mode="lines", name=name,
        line=dict(color=col, width=1.1, shape="hv"),
        hoverinfo="skip", showlegend=False,
    ))

shapes = []
annotations = []

# day boundary (major vertical grid)
shapes.append(dict(type="line", xref="x", yref="paper", x0=DAY_BREAK, x1=DAY_BREAK, y0=0, y1=1,
                   line=dict(color="rgba(215,120,120,0.85)", width=1, dash="dot"), layer="below"))

# axes lines
AXC = "#555555"
shapes.append(dict(type="line", xref="paper", yref="paper", x0=fx(67), x1=fx(67), y0=fy(231), y1=fy(24),
                   line=dict(color=AXC, width=1), layer="above"))
shapes.append(dict(type="line", xref="paper", yref="paper", x0=fx(63), x1=fx(669), y0=fy(228), y1=fy(228),
                   line=dict(color=AXC, width=1), layer="above"))
# arrow heads
ARC = "#802020"
shapes.append(dict(type="path", xref="paper", yref="paper",
                   path=f"M {fx(64)},{fy(26.5)} L {fx(70)},{fy(26.5)} L {fx(67)},{fy(21)} Z",
                   fillcolor=ARC, line=dict(color=ARC, width=0.5), layer="above"))
shapes.append(dict(type="path", xref="paper", yref="paper",
                   path=f"M {fx(667.5)},{fy(225)} L {fx(667.5)},{fy(231)} L {fx(673)},{fy(228)} Z",
                   fillcolor=ARC, line=dict(color=ARC, width=0.5), layer="above"))

# image frame
shapes.append(dict(type="line", xref="paper", yref="paper", x0=fx(0), x1=fx(W), y0=fy(0.5), y1=fy(0.5),
                   line=dict(color="#d8d8d8", width=1)))
shapes.append(dict(type="line", xref="paper", yref="paper", x0=fx(0.5), x1=fx(0.5), y0=fy(0), y1=fy(H),
                   line=dict(color="#d8d8d8", width=1)))
shapes.append(dict(type="line", xref="paper", yref="paper", x0=fx(0), x1=fx(W), y0=fy(H - 1), y1=fy(H - 1),
                   line=dict(color="#9a9a9a", width=2)))
shapes.append(dict(type="line", xref="paper", yref="paper", x0=fx(W - 1), x1=fx(W - 1), y0=fy(0), y1=fy(H),
                   line=dict(color="#9a9a9a", width=2)))

# title / labels
annotations.append(dict(text=TITLE, xref="paper", yref="paper", x=fx(347.5), y=fy(19),
                        xanchor="center", yanchor="middle", showarrow=False,
                        font=dict(family=MONO, size=13.3, color="#000000")))
annotations.append(dict(text=Y_LABEL, xref="paper", yref="paper", x=fx(11), y=fy(128), textangle=-90,
                        xanchor="center", yanchor="middle", showarrow=False,
                        font=dict(family=MONO, size=11.6, color="#000000")))
annotations.append(dict(text=WATERMARK, xref="paper", yref="paper", x=fx(687.5), y=fy(60), textangle=90,
                        xanchor="center", yanchor="middle", showarrow=False,
                        font=dict(family=MONO, size=8.4, color="#bdbdbd")))
annotations.append(dict(text=UPDATED.replace(" ", "\u00a0"), xref="paper", yref="paper", x=fx(338), y=fy(658),
                        xanchor="left", yanchor="middle", showarrow=False, borderpad=0, borderwidth=0,
                        font=dict(family=MONO, size=11.6, color="#000000")))

# legend rows
ROW0, ROWSTEP = 254, 14
for k, (name, col, mn, mx, ls) in enumerate(zip(names, colors, stat_min, stat_max, stat_last)):
    yc = ROW0 + ROWSTEP * k
    shapes.append(dict(type="rect", xref="paper", yref="paper",
                       x0=fx(15.5), x1=fx(23.5), y0=fy(yc - 4.5), y1=fy(yc + 4.5),
                       fillcolor=col, line=dict(color="#000000", width=1)))
    annotations.append(dict(text=name.replace(" ", "\u00a0"), xref="paper", yref="paper",
                            x=fx(30), y=fy(yc), xanchor="left", yanchor="middle", showarrow=False,
                            borderpad=0, borderwidth=0,
                            font=dict(family=MONO, size=11.6, color="#000000")))
    stats = f"min:{mn:10.2f}   max:{mx:10.2f}   last:{ls:10.2f}"
    annotations.append(dict(text=stats.replace(" ", "\u00a0"), xref="paper", yref="paper",
                            x=fx(347), y=fy(yc), xanchor="left", yanchor="middle", showarrow=False,
                            borderpad=0, borderwidth=0,
                            font=dict(family=MONO, size=11.6, color="#000000")))

MINOR_GRID = "rgba(150,150,150,0.55)"
fig.update_layout(
    width=W, height=H,
    margin=dict(l=PL, r=W - PR, t=PT, b=H - PB, pad=0),
    paper_bgcolor="#f3f3f3", plot_bgcolor="#ffffff",
    showlegend=False,
    shapes=shapes, annotations=annotations,
    xaxis=dict(
        type="date", range=X_RANGE, tickformat="%H:%M",
        tick0=X_TICK0, dtick=7200000,
        showgrid=True, gridcolor=MINOR_GRID, griddash="dot", gridwidth=1,
        ticks="outside", ticklen=3, tickcolor=AXC, tickwidth=1,
        minor=dict(dtick=3600000, tick0="2026-05-27 11:00", showgrid=True, gridcolor=MINOR_GRID,
                   griddash="dot", gridwidth=1, ticks="outside", ticklen=2, tickcolor=AXC),
        showline=False, zeroline=False,
        tickfont=dict(family=MONO, size=10, color="#000000"),
        fixedrange=True,
    ),
    yaxis=dict(
        range=Y_RANGE, tickvals=Y_TICKS, ticktext=[str(v) for v in Y_TICKS],
        showgrid=True, gridcolor="rgba(215,120,120,0.85)", griddash="dot", gridwidth=1,
        ticks="outside", ticklen=3, tickcolor=AXC, tickwidth=1,
        showline=False, zeroline=False,
        tickfont=dict(family=MONO, size=10.5, color="#000000"),
        fixedrange=True,
    ),
)

fig.write_html("out.html")
